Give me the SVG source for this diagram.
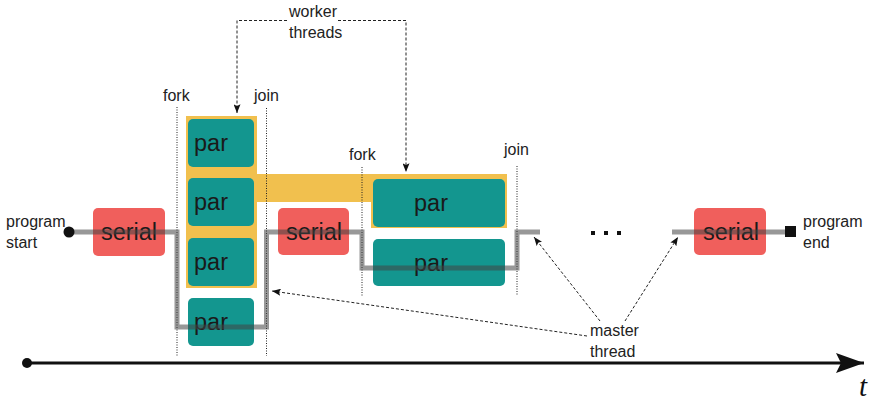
<svg xmlns="http://www.w3.org/2000/svg" width="877" height="401" viewBox="0 0 877 401">
<style>
.lbl{font-family:"Liberation Sans",Arial,sans-serif;font-size:16px;fill:#222}
.big{font-family:"Liberation Sans",Arial,sans-serif;font-size:23.5px;fill:#1a1a1a}
.par{fill:#13968f}
.ser{fill:#f05f5c}
.yel{fill:#f1c04e}
.dot{stroke:#222;stroke-width:1;stroke-dasharray:1 1.5;fill:none}
.dash{stroke:#222;stroke-width:1;stroke-dasharray:3 2;fill:none}
.thread{stroke:#444;stroke-opacity:0.55;stroke-width:5;fill:none}
</style>
<defs>
<marker id="ah" viewBox="0 0 10 8" refX="10" refY="4" markerWidth="9" markerHeight="7" markerUnits="userSpaceOnUse" orient="auto">
<path d="M0,0 L10,4 L0,8 L2,4 Z" fill="#111"/>
</marker>
<marker id="big" viewBox="0 0 28 20" refX="28" refY="10" markerWidth="28" markerHeight="20" markerUnits="userSpaceOnUse" orient="auto">
<path d="M0,0 L28,10 L0,20 L5,10 Z" fill="#111"/>
</marker>
</defs>

<g id="worker-panels">
<path class="yel" d="M186,116 H257 V174 H507 V228 H371 V202 H257 V288 H186 Z"/>
</g>

<g id="serial1"><rect class="ser" x="93" y="208" width="72" height="48" rx="5"/><text class="big" x="129" y="240" text-anchor="middle">serial</text></g>
<g id="par1"><rect class="par" x="188" y="119" width="66" height="48" rx="5"/><text class="big" x="194" y="151">par</text></g>
<g id="par2"><rect class="par" x="188" y="178" width="66" height="48" rx="5"/><text class="big" x="194" y="210">par</text></g>
<g id="par3"><rect class="par" x="188" y="238" width="66" height="48" rx="5"/><text class="big" x="194" y="270">par</text></g>
<g id="par4"><rect class="par" x="188" y="298" width="66" height="48" rx="5"/><text class="big" x="194" y="330">par</text></g>
<g id="serial2"><rect class="ser" x="278" y="208" width="71" height="47" rx="5"/><text class="big" x="314" y="240" text-anchor="middle">serial</text></g>
<g id="par5"><rect class="par" x="373" y="179" width="132" height="48" rx="5"/><text class="big" x="431" y="211" text-anchor="middle">par</text></g>
<g id="par6"><rect class="par" x="373" y="239" width="132" height="47" rx="5"/><text class="big" x="431" y="271" text-anchor="middle">par</text></g>
<g id="serial3"><rect class="ser" x="694" y="208" width="72" height="47" rx="5"/><text class="big" x="731" y="240" text-anchor="middle">serial</text></g>

<g id="fork-join">
<line class="dot" x1="177" y1="107" x2="177" y2="356"/>
<line class="dot" x1="266.5" y1="108" x2="266.5" y2="356"/>
<line class="dot" x1="362" y1="167" x2="362" y2="296"/>
<line class="dot" x1="517" y1="166" x2="517" y2="296"/>
<text class="lbl" x="163" y="101">fork</text>
<text class="lbl" x="254" y="101">join</text>
<text class="lbl" x="349" y="160">fork</text>
<text class="lbl" x="504" y="155">join</text>
</g>

<g id="master-thread">
<path class="thread" d="M69,232 H177 V327 H266.5 V232 H362 V268 H517 V232 H540"/>
<path class="thread" d="M672,232 H790"/>
<circle cx="69" cy="232" r="5.5" fill="#111"/>
<rect x="785" y="226" width="11" height="11" fill="#111"/>
<rect x="591" y="231" width="4" height="4" fill="#111"/>
<rect x="604" y="231" width="4" height="4" fill="#111"/>
<rect x="617" y="231" width="4" height="4" fill="#111"/>
</g>

<g id="labels">
<text class="lbl" x="6" y="227">program</text>
<text class="lbl" x="6" y="248">start</text>
<text class="lbl" x="803" y="227">program</text>
<text class="lbl" x="803" y="248">end</text>
<text class="lbl" x="289" y="17">worker</text>
<text class="lbl" x="289" y="38">threads</text>
<text class="lbl" x="590" y="336">master</text>
<text class="lbl" x="590" y="357">thread</text>
</g>

<g id="connectors">
<path class="dash" d="M287,20.5 H237 V113" marker-end="url(#ah)"/>
<path class="dash" d="M338,20.5 H406 V172" marker-end="url(#ah)"/>
<path class="dash" d="M587,336 L272,291" marker-end="url(#ah)"/>
<path class="dash" d="M600,321 L534,237" marker-end="url(#ah)"/>
<path class="dash" d="M625,321 L678,237" marker-end="url(#ah)"/>
</g>

<g id="timeline">
<circle cx="27" cy="363" r="5" fill="#111"/>
<line x1="27" y1="363" x2="864" y2="363" stroke="#111" stroke-width="3" marker-end="url(#big)"/>
<text x="859" y="396" font-family="Liberation Serif,serif" font-style="italic" font-size="29" fill="#111">t</text>
</g>
</svg>
